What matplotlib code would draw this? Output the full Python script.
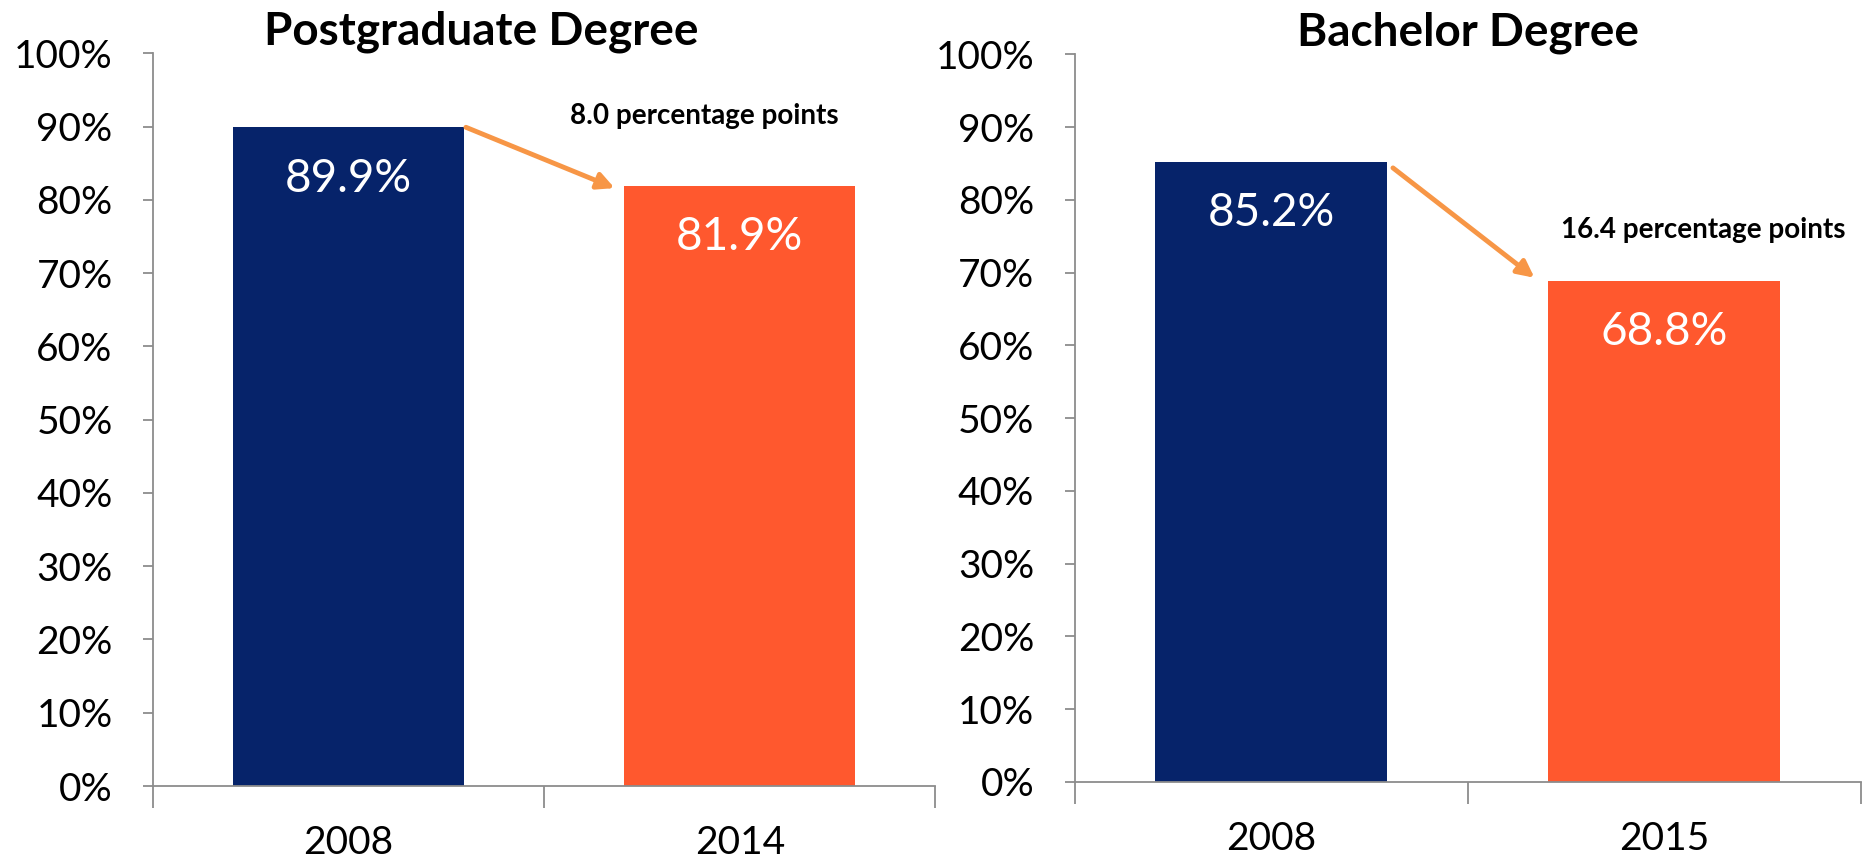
import matplotlib.pyplot as plt
import numpy as np

plt.rcParams['font.family'] = ['Lato', 'DejaVu Sans']

# data
years_pg = ['2008', '2014']
vals_pg = [89.9, 81.9]
years_ba = ['2008', '2015']
vals_ba = [85.2, 68.8]
titles = ['Postgraduate Degree', 'Bachelor Degree']
notes = ['8.0 percentage points', '16.4 percentage points']

navy = '#06236A'
orange = '#FF582E'
arrow_col = '#F79646'
grey = '#8C8C8C'

fig = plt.figure(figsize=(18.72, 8.58), dpi=100)
ax1 = fig.add_axes([0.0817, 0.0839, 0.418, 0.854])
ax2 = fig.add_axes([0.574, 0.0886, 0.420, 0.848])


def draw(ax, years, vals, title, note, title_x, arrow_start, arrow_end, note_xy):
    x = np.arange(len(years))
    ax.bar(x, vals, width=0.59, color=[navy, orange], zorder=2)
    ax.set_xlim(-0.5, 1.5)
    ax.set_ylim(0, 100)
    ax.set_yticks(np.arange(0, 101, 10))
    ax.set_yticklabels([f'{v}%' for v in range(0, 101, 10)])
    ax.set_xticks(x)
    ax.set_xticklabels(years)
    ax.set_xticks([-0.5, 0.5, 1.5], minor=True)
    ax.tick_params(axis='x', which='major', length=0, pad=28, labelsize=28)
    ax.tick_params(axis='x', which='minor', length=16, color=grey, width=1.3)
    ax.tick_params(axis='y', length=7, color=grey, width=1.3, pad=22, labelsize=28)
    for s in ['top', 'right']:
        ax.spines[s].set_visible(False)
    for s in ['left', 'bottom']:
        ax.spines[s].set_color(grey)
        ax.spines[s].set_linewidth(1.3)
    for xi, v in zip(x, vals):
        ax.text(xi, v - 7, f'{v:.1f}%', color='white', ha='center', va='center',
                fontsize=33)
    ax.text(title_x, 1.0, title, transform=ax.transAxes, ha='center', va='bottom',
            fontsize=33, fontweight='bold')
    ax.annotate('', xy=arrow_end, xytext=arrow_start,
                arrowprops=dict(arrowstyle='-|>,head_length=1.0,head_width=0.5',
                                color=arrow_col, lw=3.5, shrinkA=0, shrinkB=0))
    ax.text(note_xy[0], note_xy[1], note, ha='center', va='center', fontsize=20,
            fontweight='bold')


draw(ax1, years_pg, vals_pg, titles[0], notes[0], 0.42,
     (0.30, 89.9), (0.68, 81.6), (0.91, 91.4))
draw(ax2, years_ba, vals_ba, titles[1], notes[1], 0.5,
     (0.31, 84.4), (0.67, 69.3), (1.10, 75.9))

fig.savefig('out.png', dpi=100)
